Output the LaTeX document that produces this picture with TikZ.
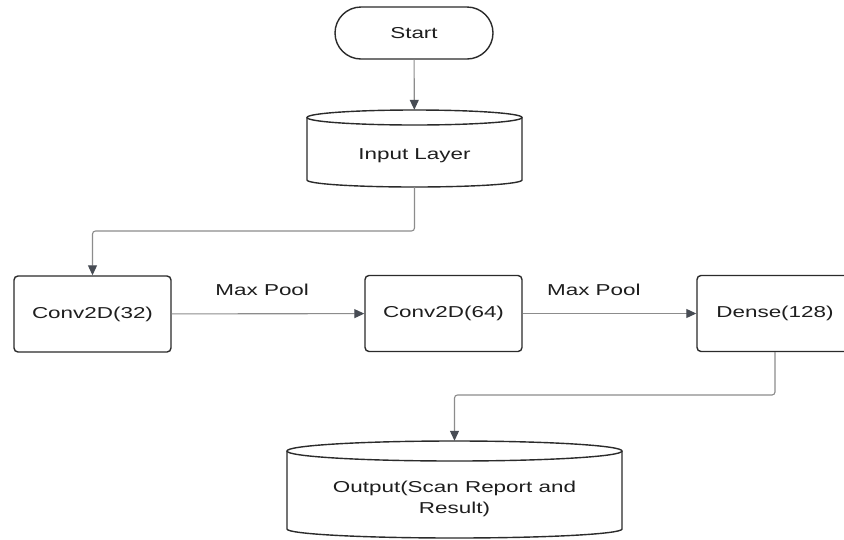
\documentclass[tikz,border=0pt]{standalone}
\usepackage{fontspec}
\setmainfont{Liberation Sans}[FakeStretch=1.42]
\usetikzlibrary{arrows.meta}
\definecolor{edgec}{HTML}{2B2B2B}
\definecolor{linkc}{HTML}{8C8C8C}
\definecolor{tipc}{HTML}{474C54}
\definecolor{txtc}{HTML}{1E1E1E}
\begin{document}
\begin{tikzpicture}[x=1pt,y=-1pt,
  every node/.style={font=\fontsize{15.8}{21}\selectfont, text=txtc},
  layerbox/.style={draw=edgec, line width=1.4pt, fill=white, rounded corners=4pt,
    minimum width=157pt, minimum height=76pt, inner sep=0pt},
  terminal/.style={draw=edgec, line width=1.4pt, fill=white, rounded corners=26pt,
    minimum width=158pt, minimum height=52pt, inner sep=0pt},
  drumframe/.style={draw=none, inner sep=0pt},
  drumline/.style={draw=edgec, line width=1.4pt, fill=white},
  conn/.style={draw=linkc, line width=1.1pt, rounded corners=3pt,
    -{Triangle[length=10pt,width=9pt,color=tipc]}},
  poollabel/.style={yshift=24pt}
]
\useasboundingbox (0,0) rectangle (844,539);
\fill[white] (0,0) rectangle (844,539);
\clip (0,0) rectangle (844,539);

% Start terminal
\node[terminal] (start) at (414,33) {Start};

% Input layer drum: frame node for connectors, outline, then the text
\node[drumframe, minimum width=215pt, minimum height=77pt] (inp) at (414.5,148.5) {};
\draw[drumline] (307,117.5) -- (307,180)
  arc[start angle=180, end angle=0, x radius=107.5, y radius=7] -- (522,117.5);
\draw[drumline] (414.5,117.5) ellipse[x radius=107.5, y radius=7.5];
\node (inplabel) at (414.5,156) {Input Layer};

% Convolution and dense layers
\node[layerbox] (c32) at (92.5,314) {Conv2D(32)};
\node[layerbox] (c64) at (443.5,313.5) {Conv2D(64)};
\node[layerbox, minimum width=156pt] (dense) at (775,313.5) {Dense(128)};

% Output drum
\node[drumframe, minimum width=335pt, minimum height=97pt] (out) at (454.5,489.5) {};
\draw[drumline] (287,451) -- (287,529)
  arc[start angle=180, end angle=0, x radius=167.5, y radius=9] -- (622,451);
\draw[drumline] (454.5,451) ellipse[x radius=167.5, y radius=10];
\node[align=center] (outlabel) at (454.5,499) {Output(Scan Report and\\Result)};

% Connectors
\coordinate (j1) at (0,231);
\coordinate (j2) at (0,395);
\draw[conn] (start) -- (inp);
\draw[conn] (inp.south) -- (inp.south |- j1) -| (c32.north);
\draw[conn] (c32) -- node[pos=0.47, poollabel] (mp1) {Max Pool} (c64);
\draw[conn] (c64) -- node[pos=0.41, poollabel] (mp2) {Max Pool} (dense);
\draw[conn] (dense.south) -- (dense.south |- j2) -| (out.north);
\end{tikzpicture}
\end{document}
